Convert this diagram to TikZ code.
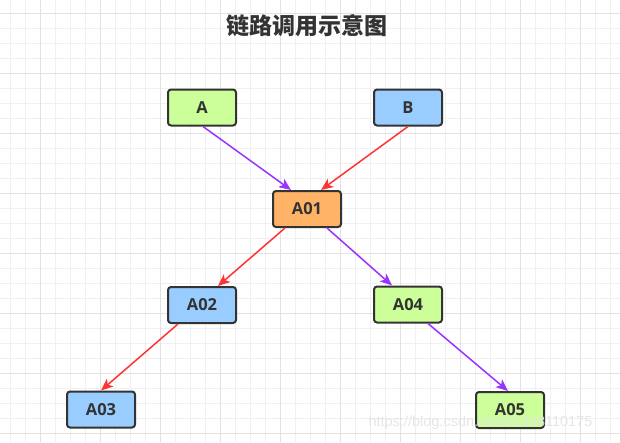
\documentclass[tikz,border=0pt]{standalone}
\usepackage{fontspec}
\setmainfont{Open Sans}
\newfontfamily\cjkfont{Noto Sans CJK SC}
\newfontfamily\wmfont{Liberation Sans}
\usetikzlibrary{arrows.meta}
\definecolor{gridminor}{HTML}{F0F0F0}
\definecolor{gridmajor}{HTML}{E2E2E2}
\definecolor{boxgreen}{HTML}{CCFF99}
\definecolor{boxblue}{HTML}{99CCFF}
\definecolor{boxorange}{HTML}{FFB366}
\definecolor{boxline}{HTML}{333333}
\definecolor{txt}{HTML}{333333}
\definecolor{edgepurple}{HTML}{9933FF}
\definecolor{edgered}{HTML}{FF3333}
\definecolor{wmcolor}{HTML}{E4E4E4}
\tikzset{
  box/.style={draw=boxline, line width=2pt, rounded corners=3pt,
    minimum width=68pt, minimum height=36pt, inner sep=0pt,
    text=txt, font=\fontsize{16.5}{16.5}\selectfont\bfseries},
  greenbox/.style={box, fill=boxgreen},
  bluebox/.style={box, fill=boxblue},
  orangebox/.style={box, fill=boxorange},
  link/.style={line width=1.5pt, -{Stealth[length=12pt,width=10pt,inset=3pt]}},
  purplelink/.style={link, draw=edgepurple, fill=edgepurple},
  redlink/.style={link, draw=edgered, fill=edgered}
}
\begin{document}
\begin{tikzpicture}[x=1pt,y=-1pt]
\useasboundingbox (0,0) rectangle (620,442);
\fill[white] (0,0) rectangle (620,442);
% grid
\foreach \gx in {10,25,...,610} {\draw[gridminor, line width=1pt] (\gx,0) -- (\gx,442);}
\foreach \gy in {13,28,...,440} {\draw[gridminor, line width=1pt] (0,\gy) -- (620,\gy);}
\foreach \gx in {40,100,...,580} {\draw[gridmajor, line width=1pt] (\gx,0) -- (\gx,442);}
\foreach \gy in {13,73,...,433} {\draw[gridmajor, line width=1pt] (0,\gy) -- (620,\gy);}
% title
\node[text=txt, font=\cjkfont\fontsize{23}{23}\selectfont\bfseries] (title) at (307,25.5) {链路调用示意图};
% nodes
\node[greenbox] (A) at (202,107.5) {A};
\node[bluebox] (B) at (408,107.5) {B};
\node[orangebox] (A01) at (307,209) {A01};
\node[bluebox] (A02) at (202,305) {A02};
\node[greenbox] (A04) at (408,304.5) {A04};
\node[bluebox] (A03) at (101,409.5) {A03};
\node[greenbox] (A05) at (510,410) {A05};
% edges
\draw[purplelink] ([xshift=1pt]A.south) -- ([xshift=-16pt]A01.north);
\draw[redlink] (B.south) -- ([xshift=14pt]A01.north);
\draw[redlink] ([xshift=-22pt]A01.south) -- ([xshift=16pt]A02.north);
\draw[purplelink] ([xshift=20pt]A01.south) -- ([xshift=-16pt]A04.north);
\draw[redlink] ([xshift=-24pt]A02.south) -- (A03.north);
\draw[purplelink] ([xshift=20pt]A04.south) -- ([xshift=-2pt]A05.north);
% watermark
\node[text=wmcolor, opacity=0.9, font=\wmfont\fontsize{14.5}{14.5}\selectfont, anchor=west] (wm) at (365,423) {https://blog.csdn.net/lzb348110175};
\end{tikzpicture}
\end{document}
